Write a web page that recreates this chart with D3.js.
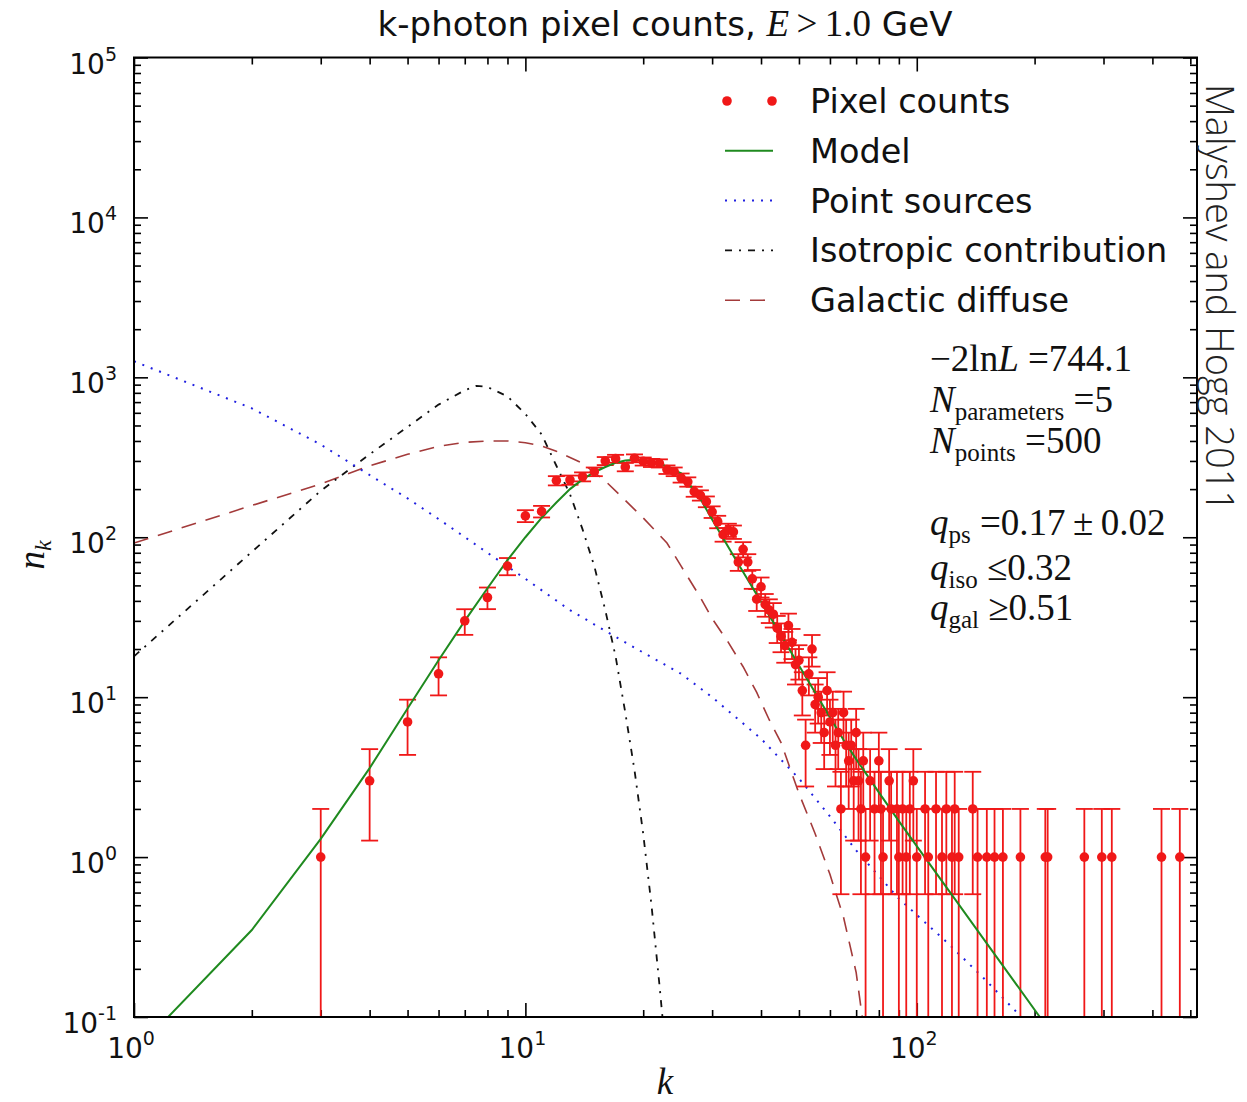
<!DOCTYPE html>
<meta charset="utf-8">
<title>k-photon pixel counts</title>
<script src="https://d3js.org/d3.v7.min.js"></script>
<style>
    body { margin: 0; background: #fff; }
    .tick line { stroke: #000; stroke-width: 1.6px; }
    .tick text { display: none; }
    .domain { display: none; }
    text.ticklab { font-family: "DejaVu Sans", sans-serif; font-size: 28px; fill: #111; }
    text.legend { font-family: "DejaVu Sans", sans-serif; font-size: 33.5px; fill: #111; }
    text.title { font-family: "DejaVu Sans", sans-serif; font-size: 34px; fill: #111; text-anchor: middle; }
    text.math { font-family: "Liberation Serif", "DejaVu Serif", serif; font-size: 37px; fill: #111; }
    text.credit { font-family: "Open Sans", "Lato", sans-serif; font-weight: 300; font-size: 38px; fill: #222; }
</style>
<div id="chart"></div>
<script>

// pixel counts n_k (k = photons per pixel)
var countK = [3,4,5,6,7,8,9,10,11,12,13,14,15,16,17,18,19,20,21,22,23,24,25,26,27,28,29,30,
    31,32,33,34,35,36,37,38,39,40,41,42,43,44,45,46,47,48,49,50,51,52,53,54,55,56,57,58,59,60,
    61,62,63,64,65,66,67,68,69,70,71,72,73,74,76,78,80,81,82,85,86,89,90,92,94,96,98,100,
    105,107,112,116,119,123,125,128,139,143,151,158,166,184,213,216,268,297,315,422,470];
var countN = [1,3,7,14,30,42,66,136,145,226,228,239,257,300,310,275,312,298,292,290,265,257,235,222,193,183,167,144,
    125,104,111,108,70,84,70,55,41,49,38,35,33,27,24,21,28,22,16,17,11,5,14,20,9,10,8,6,11,7,
    8,5,6,2,8,5,4,5,3,6,3,2,4,1,3,2,4,2,1,3,2,2,1,2,1,2,3,1,
    2,1,2,1,2,1,2,1,2,1,1,1,1,1,1,1,1,1,1,1,1];

// model total
var modelK = [1,2,3,4,5,6,7,8,9,10,11,12,13,14,15,16,17,18,19,20,22,25,28,30,35,40,45,50,55,60,65,70,80,90,100,120,150,180,210];
var modelN = [0.06,0.35,1.3,3.6,8.5,17,30,48,72,100,132,165,200,230,255,275,292,302,305,302,290,251,174,129,68,39.5,24.4,15.8,10.7,7.5,5.4,4.1,2.54,1.68,1.17,0.63,0.295,0.159,0.094];

// point sources
var psK = [1,2,3,4,5,6,8,10,13,16,20,25,30,40,50,60,70,90,120,150,185,220];
var psN = [1260,640,380,245,175,130,80,55,35,26,19,14,10,5.5,3.1,1.8,1.1,0.55,0.29,0.17,0.1,0.07];

// isotropic contribution
var isoK = [1,2,3,4,5,6,7,7.5,8,9,10,11,12,13,14,15,16,17,18,19,20,21,22,23];
var isoN = [18,81,195,330,490,675,830,885,870,760,590,440,280,186,112,66,35,18,8,3.5,1.4,0.5,0.16,0.05];

// galactic diffuse
var galK = [1,2,3,4,5,6,7,8,9,10,11,12,14,16,18,20,23,25,28,30,33,36,39,42,45,50,55,60,65,70,73];
var galN = [92,158,215,280,330,370,392,400,400,390,372,345,290,225,170,132,92,66,42,31,22,15.5,10.7,7.2,5.2,2.5,1.4,0.78,0.42,0.19,0.09];

var xTicks = [1, 10, 100];
var xTickExp = ["0", "1", "2"];
var yTicks = [0.1, 1, 10, 100, 1000, 10000, 100000];
var yTickExp = ["-1", "0", "1", "2", "3", "4", "5"];

var legendNames = ["Pixel counts", "Model", "Point sources", "Isotropic contribution", "Galactic diffuse"];

var margin = {top: 57.5, right: 50, bottom: 85, left: 134},
    width = 1197 - margin.left,
    height = 1017 - margin.top;

var svg = d3.select("#chart").append("svg")
    .attr("width", 1247)
    .attr("height", 1102);

var g = svg.append("g")
    .attr("transform", "translate(" + margin.left + "," + margin.top + ")");

var x = d3.scaleLog().domain([1, 520]).range([0, width]);
var y = d3.scaleLog().domain([0.1, 1e5]).range([height, 0]);

g.append("clipPath").attr("id", "clip")
  .append("rect").attr("width", width).attr("height", height);

// minor ticks
var xMinor = [], yMinor = [];
xTicks.forEach(function(d) { for (var m = 2; m <= 9; m++) if (m * d <= 520) xMinor.push(m * d); });
yTicks.slice(0, -1).forEach(function(d) { for (var m = 2; m <= 9; m++) yMinor.push(m * d); });

function ticks(axis, vals, size) { return axis.tickValues(vals).tickSize(-size).tickFormat(""); }
[[xTicks, 14], [xMinor, 7]].forEach(function(t) {
    g.append("g").attr("transform", "translate(0," + height + ")").call(ticks(d3.axisBottom(x), t[0], t[1]));
    g.append("g").call(ticks(d3.axisTop(x), t[0], t[1]));
});
[[yTicks, 14], [yMinor, 7]].forEach(function(t) {
    g.append("g").call(ticks(d3.axisLeft(y), t[0], t[1]));
    g.append("g").attr("transform", "translate(" + width + ",0)").call(ticks(d3.axisRight(y), t[0], t[1]));
});

// tick labels with superscripts
xTicks.forEach(function(d, i) {
    var t = g.append("text").attr("class", "ticklab")
        .attr("x", x(d) - 3).attr("y", height + 41).attr("text-anchor", "middle");
    t.append("tspan").text("10");
    t.append("tspan").attr("dy", -13).style("font-size", "19px").text(xTickExp[i]);
});
yTicks.forEach(function(d, i) {
    var t = g.append("text").attr("class", "ticklab")
        .attr("x", -17).attr("y", y(d) + 16).attr("text-anchor", "end");
    t.append("tspan").text("10");
    t.append("tspan").attr("dy", -13).style("font-size", "19px").text(yTickExp[i]);
});

var plot = g.append("g").attr("clip-path", "url(#clip)");

var line = d3.line()
    .x(function(d) { return x(d[0]); })
    .y(function(d) { return y(d[1]); });

function series(ks, ns) { return ks.map(function(k, i) { return [k, ns[i]]; }); }

plot.append("path").datum(series(galK, galN))
    .attr("d", line).attr("fill", "none").attr("stroke", "#a33a3a")
    .attr("stroke-width", 1.6).attr("stroke-dasharray", "15,10");
plot.append("path").datum(series(isoK, isoN))
    .attr("d", line).attr("fill", "none").attr("stroke", "#111")
    .attr("stroke-width", 1.8).attr("stroke-dasharray", "7,7,2,7");
plot.append("path").datum(series(psK, psN))
    .attr("d", line).attr("fill", "none").attr("stroke", "#2020e0")
    .attr("stroke-width", 2).attr("stroke-dasharray", "2,7");

// error bars (Poisson, n +- sqrt n)
var counts = series(countK, countN);
var bars = plot.append("g").attr("stroke", "#f01818").attr("stroke-width", 1.8);
counts.forEach(function(d) {
    var err = Math.sqrt(d[1]);
    var hi = y(d[1] + err);
    var lo = d[1] - err > 0 ? y(d[1] - err) : height + 5;
    var cx = x(d[0]);
    bars.append("line").attr("x1", cx).attr("x2", cx).attr("y1", hi).attr("y2", lo);
    bars.append("line").attr("x1", cx - 8.5).attr("x2", cx + 8.5).attr("y1", hi).attr("y2", hi);
    if (d[1] - err > 0) bars.append("line").attr("x1", cx - 8.5).attr("x2", cx + 8.5).attr("y1", lo).attr("y2", lo);
});

plot.append("path").datum(series(modelK, modelN))
    .attr("d", line).attr("fill", "none").attr("stroke", "#1f8a1f").attr("stroke-width", 2);

plot.selectAll("circle.pt").data(counts).enter().append("circle")
    .attr("class", "pt")
    .attr("cx", function(d) { return x(d[0]); })
    .attr("cy", function(d) { return y(d[1]); })
    .attr("r", 4.8).attr("fill", "#f01818");

// frame
g.append("rect").attr("width", width).attr("height", height)
    .attr("fill", "none").attr("stroke", "#000").attr("stroke-width", 2);

// legend
var leg = svg.append("g").attr("transform", "translate(725,101)");
var legItems = leg.selectAll("g").data(legendNames).enter().append("g")
    .attr("transform", function(d, i) { return "translate(0," + i * 49.8 + ")"; });
legItems.append("text").attr("class", "legend").attr("x", 85).attr("y", 12).text(function(d) { return d; });
var styles = [null,
    {c: "#1f8a1f", w: 2, a: null},
    {c: "#2020e0", w: 2, a: "2,7"},
    {c: "#111", w: 1.8, a: "7,7,2,7"},
    {c: "#a33a3a", w: 1.6, a: "15,10"}];
legItems.each(function(d, i) {
    var s = d3.select(this);
    if (i === 0) {
        s.selectAll("circle").data([2, 47]).enter().append("circle")
            .attr("cx", function(v) { return v; }).attr("cy", 0).attr("r", 4.8).attr("fill", "#f01818");
    } else {
        s.append("line").attr("x1", 0).attr("x2", 48).attr("y1", 0).attr("y2", 0)
            .attr("stroke", styles[i].c).attr("stroke-width", styles[i].w)
            .attr("stroke-dasharray", styles[i].a);
    }
});

// title
var title = svg.append("text").attr("class", "title").attr("x", 665).attr("y", 36);
title.append("tspan").text("k-photon pixel counts, ");
title.append("tspan").style("font-family", "Liberation Serif, serif").style("font-size", "37px").style("font-style", "italic").text("E");
title.append("tspan").style("font-family", "Liberation Serif, serif").style("font-size", "37px").text("\u2009>\u20091.0");
title.append("tspan").text(" GeV");

// axis labels
svg.append("text").attr("class", "math").attr("x", 665).attr("y", 1094)
    .attr("text-anchor", "middle").style("font-style", "italic").text("k");
var yl = svg.append("text").attr("class", "math").attr("transform", "translate(44,555) rotate(-90)")
    .attr("text-anchor", "middle").style("font-style", "italic");
yl.append("tspan").text("n");
yl.append("tspan").attr("dy", 7).style("font-size", "24px").text("k");

// fit annotations
function mathLine(yy, parts) {
    var t = svg.append("text").attr("class", "math").attr("x", 930).attr("y", yy);
    parts.forEach(function(p) {
        var s = t.append("tspan").text(p.t);
        if (p.i) s.style("font-style", "italic");
        if (p.sub) s.attr("dy", 8).style("font-size", "25px");
        if (p.up) s.attr("dy", -8);
    });
}
mathLine(371, [{t: "\u22122ln"}, {t: "L", i: 1}, {t: " =744.1"}]);
mathLine(412, [{t: "N", i: 1}, {t: "parameters", sub: 1}, {t: " =5", up: 1}]);
mathLine(453, [{t: "N", i: 1}, {t: "points", sub: 1}, {t: " =500", up: 1}]);
mathLine(535, [{t: "q", i: 1}, {t: "ps", sub: 1}, {t: " =0.17\u2009\u00b1\u20090.02", up: 1}]);
mathLine(580, [{t: "q", i: 1}, {t: "iso", sub: 1}, {t: " \u22640.32", up: 1}]);
mathLine(620, [{t: "q", i: 1}, {t: "gal", sub: 1}, {t: " \u22650.51", up: 1}]);

// credit on the right
svg.append("text").attr("class", "credit")
    .attr("transform", "translate(1206,298) rotate(90)")
    .attr("text-anchor", "middle").text("Malyshev and Hogg 2011");

</script>
